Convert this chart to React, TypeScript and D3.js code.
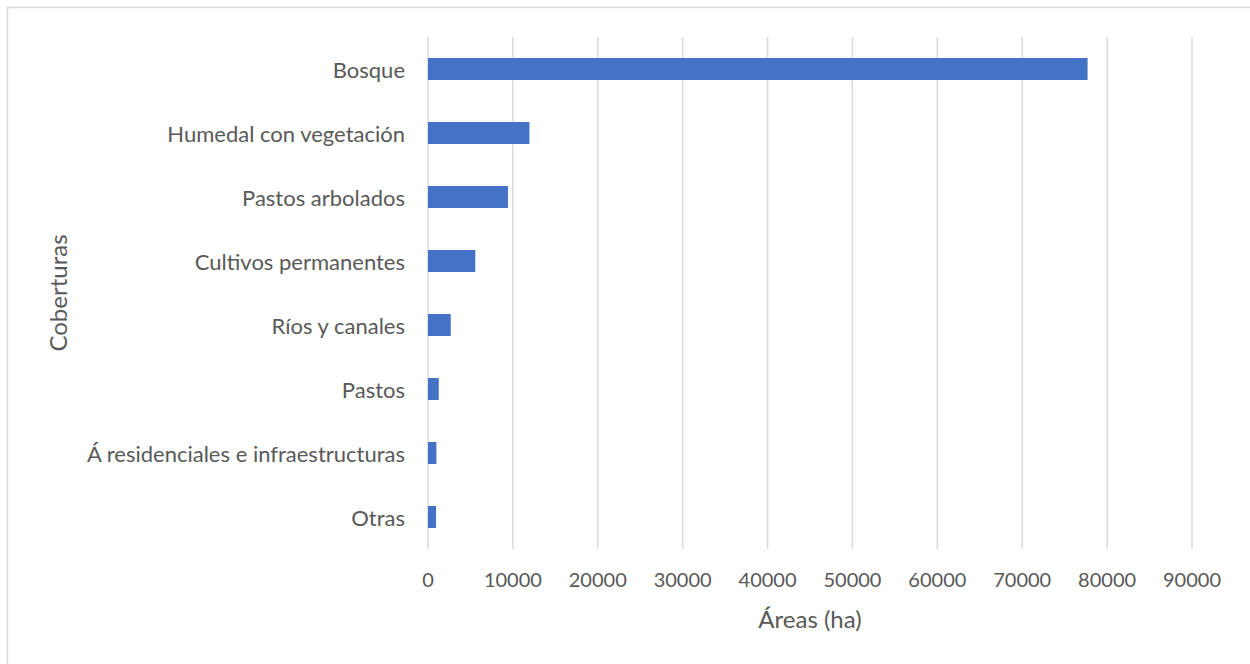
import React, { useEffect, useRef } from 'react';
import * as d3 from 'd3';

// Cobertura del suelo, área en hectáreas
const categories = [
    'Bosque',
    'Humedal con vegetación',
    'Pastos arbolados',
    'Cultivos permanentes',
    'Ríos y canales',
    'Pastos',
    'Á residenciales e infraestructuras',
    'Otras',
];
const areas = [77700, 11950, 9420, 5570, 2680, 1270, 990, 950];
const xTicks = [0, 10000, 20000, 30000, 40000, 50000, 60000, 70000, 80000, 90000];

const xTitle = 'Áreas (ha)';
const yTitle = 'Coberturas';

export default function App() {
    const svgRef = useRef<SVGSVGElement>(null);

    useEffect(() => {
        if (!svgRef.current) return;

        const width = 1250;
        const height = 664;
        const margin = { top: 37, right: 58, bottom: 115, left: 428 };
        const font = 'Lato, "Open Sans", sans-serif';
        const textColor = '#595959';

        const svg = d3.select(svgRef.current)
            .attr('width', width)
            .attr('height', height)
            .style('background', '#fff');

        svg.selectAll('*').remove();

        // chart frame (runs off the right and bottom edges)
        svg.append('rect')
            .attr('x', 7.5)
            .attr('y', 7.5)
            .attr('width', width + 20)
            .attr('height', height + 20)
            .attr('fill', 'none')
            .attr('stroke', '#d9d9d9')
            .attr('stroke-width', 1.5);

        const x = d3.scaleLinear()
            .domain([0, 90000])
            .range([margin.left, width - margin.right]);

        const y = d3.scaleBand<string>()
            .domain(categories)
            .range([margin.top, height - margin.bottom])
            .paddingInner(0.656)
            .paddingOuter(0.328);

        // vertical grid lines
        svg.append('g')
            .selectAll('line')
            .data(xTicks)
            .enter()
            .append('line')
            .attr('x1', d => x(d))
            .attr('x2', d => x(d))
            .attr('y1', margin.top)
            .attr('y2', height - margin.bottom)
            .attr('stroke', '#d9d9d9')
            .attr('stroke-width', 1.5);

        // bars
        svg.append('g')
            .selectAll('rect')
            .data(categories)
            .enter()
            .append('rect')
            .attr('x', x(0))
            .attr('y', d => y(d)!)
            .attr('width', (d, i) => x(areas[i]) - x(0))
            .attr('height', y.bandwidth())
            .attr('fill', '#4472c4');

        // category labels
        svg.append('g')
            .selectAll('text')
            .data(categories)
            .enter()
            .append('text')
            .attr('x', margin.left - 23)
            .attr('y', d => y(d)! + y.bandwidth() / 2 + 8.5)
            .attr('text-anchor', 'end')
            .attr('font-family', font)
            .attr('font-size', 22)
            .attr('fill', textColor)
            .text(d => d);

        // x tick labels
        svg.append('g')
            .selectAll('text')
            .data(xTicks)
            .enter()
            .append('text')
            .attr('x', d => x(d))
            .attr('y', 587)
            .attr('text-anchor', 'middle')
            .attr('font-family', font)
            .attr('font-size', 20)
            .attr('fill', textColor)
            .text(d => String(d));

        // axis titles
        svg.append('text')
            .attr('x', (x(0) + x(90000)) / 2)
            .attr('y', 628)
            .attr('text-anchor', 'middle')
            .attr('font-family', font)
            .attr('font-size', 24)
            .attr('fill', textColor)
            .text(xTitle);

        svg.append('text')
            .attr('transform', `translate(66.5,${(margin.top + height - margin.bottom) / 2}) rotate(-90)`)
            .attr('text-anchor', 'middle')
            .attr('font-family', font)
            .attr('font-size', 24)
            .attr('fill', textColor)
            .text(yTitle);
    }, []);

    return (
        <svg ref={svgRef} style={{ position: 'absolute', left: 0, top: 0, display: 'block' }}></svg>
    );
}
